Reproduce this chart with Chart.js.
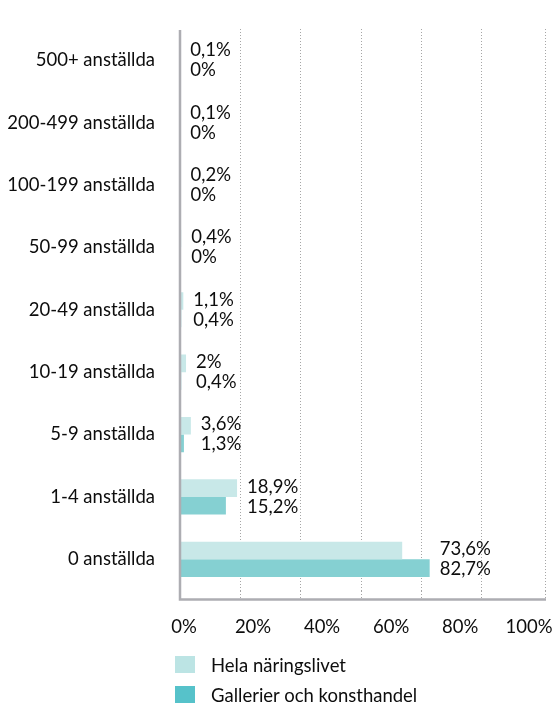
<!DOCTYPE html>
<html>
<head>
<meta charset="utf-8">
<script src="https://cdn.jsdelivr.net/npm/chart.js@4.4.1/dist/chart.umd.min.js"></script>
<style>
html,body{margin:0;padding:0;background:#fff;}
#wrap{position:relative;width:555px;height:704px;overflow:hidden;}
#c{position:absolute;left:0;top:0;}
.lg{position:absolute;left:175px;height:17px;display:flex;align-items:center;white-space:nowrap;
  font-family:Lato,sans-serif;font-size:18.5px;color:#0d0d0d;}
.sw{width:20px;height:17px;margin-right:16px;flex:none;}
</style>
</head>
<body>
<div id="wrap">
  <canvas id="c" width="555" height="704"></canvas>
  <div class="lg" style="top:656px"><span class="sw" style="background:#bce4e4"></span><span id="l0"></span></div>
  <div class="lg" style="top:686px"><span class="sw" style="background:#56c2ca"></span><span id="l1"></span></div>
</div>
<script>
const FONT = "Lato, sans-serif";
const TEXT = '#0d0d0d';
const SIZE = 18.5;

const categories = ['500+ anställda','200-499 anställda','100-199 anställda','50-99 anställda','20-49 anställda','10-19 anställda','5-9 anställda','1-4 anställda','0 anställda'];
const helaValues = [0.1, 0.1, 0.2, 0.4, 1.1, 2, 3.6, 18.9, 73.6];
const galleriValues = [0, 0, 0, 0, 0.4, 0.4, 1.3, 15.2, 82.7];
const seriesNames = ['Hela näringslivet', 'Gallerier och konsthandel'];
const xTickValues = [0, 20, 40, 60, 80, 100];

document.getElementById('l0').textContent = seriesNames[0];
document.getElementById('l1').textContent = seriesNames[1];

const fmt = v => String(v).replace('.', ',') + '%';
const GRID = '#a6a6a6';

const axisLines = {
  id: 'axisLines',
  afterDraw(chart) {
    const ctx = chart.ctx, a = chart.chartArea, xs = chart.scales.x;
    ctx.save();
    ctx.strokeStyle = '#adadb2';
    ctx.lineWidth = 2.5;
    ctx.beginPath();
    ctx.moveTo(a.left, a.top + 1);
    ctx.lineTo(a.left, xs.bottom);
    ctx.lineTo(a.right + 1, xs.bottom);
    ctx.stroke();
    ctx.restore();
  }
};

const valueLabels = {
  id: 'valueLabels',
  afterDatasetsDraw(chart) {
    const ctx = chart.ctx, xs = chart.scales.x, ys = chart.scales.y;
    ctx.save();
    ctx.font = SIZE + 'px ' + FONT;
    ctx.fillStyle = TEXT;
    ctx.textAlign = 'left';
    ctx.textBaseline = 'middle';
    categories.forEach((c, i) => {
      const x = xs.getPixelForValue(Math.max(helaValues[i], galleriValues[i])) + 10;
      const y = ys.getPixelForValue(i);
      ctx.fillText(fmt(helaValues[i]), x, y - 10);
      ctx.fillText(fmt(galleriValues[i]), x, y + 10);
    });
    ctx.restore();
  }
};

new Chart(document.getElementById('c'), {
  type: 'bar',
  data: {
    labels: categories,
    datasets: [
      { label: seriesNames[0], data: helaValues, backgroundColor: '#c8e8e8', categoryPercentage: 0.565, barPercentage: 1 },
      { label: seriesNames[1], data: galleriValues, backgroundColor: '#85d0d2', categoryPercentage: 0.565, barPercentage: 1 }
    ]
  },
  options: {
    indexAxis: 'y',
    responsive: false,
    animation: false,
    layout: { padding: { top: 29, right: 10, bottom: 66.5, left: 0 } },
    plugins: { legend: { display: false }, tooltip: { enabled: false } },
    scales: {
      y: {
        grid: { display: false, drawTicks: false },
        border: { display: false },
        ticks: { padding: 25, color: TEXT, font: { family: FONT, size: SIZE } },
        afterFit(s) { s.width = 180; s.paddingTop = 0; s.paddingBottom = 0; }
      },
      x: {
        position: 'bottom',
        min: 0,
        max: 120.9,
        grid: {
          color: c => (c.tick && c.tick.value === 0) ? 'rgba(0,0,0,0)' : GRID,
          tickColor: c => (c.tick && c.tick.value === 0) ? 'rgba(0,0,0,0)' : GRID,
          lineWidth: 1,
          drawTicks: true,
          tickLength: 9,
          tickBorderDash: [1, 2]
        },
        border: { display: false, dash: [1, 2] },
        ticks: { display: false },
        afterBuildTicks(s) { s.ticks = xTickValues.concat([s.max]).map(v => ({ value: v })); },
        afterFit(s) { s.height = 9; s.paddingLeft = 0; s.paddingRight = 0; }
      },
      x2: {
        axis: 'x',
        position: 'bottom',
        min: -1.16,
        max: 104.6,
        grid: { display: false },
        border: { display: false },
        ticks: { padding: 8, color: TEXT, font: { family: FONT, size: SIZE }, callback: v => v + '%', maxRotation: 0, autoSkip: false },
        afterBuildTicks(s) { s.ticks = xTickValues.map(v => ({ value: v })); },
        afterFit(s) { s.height = 38; s.paddingLeft = 0; s.paddingRight = 0; }
      }
    }
  },
  plugins: [axisLines, valueLabels]
});
</script>
</body>
</html>
